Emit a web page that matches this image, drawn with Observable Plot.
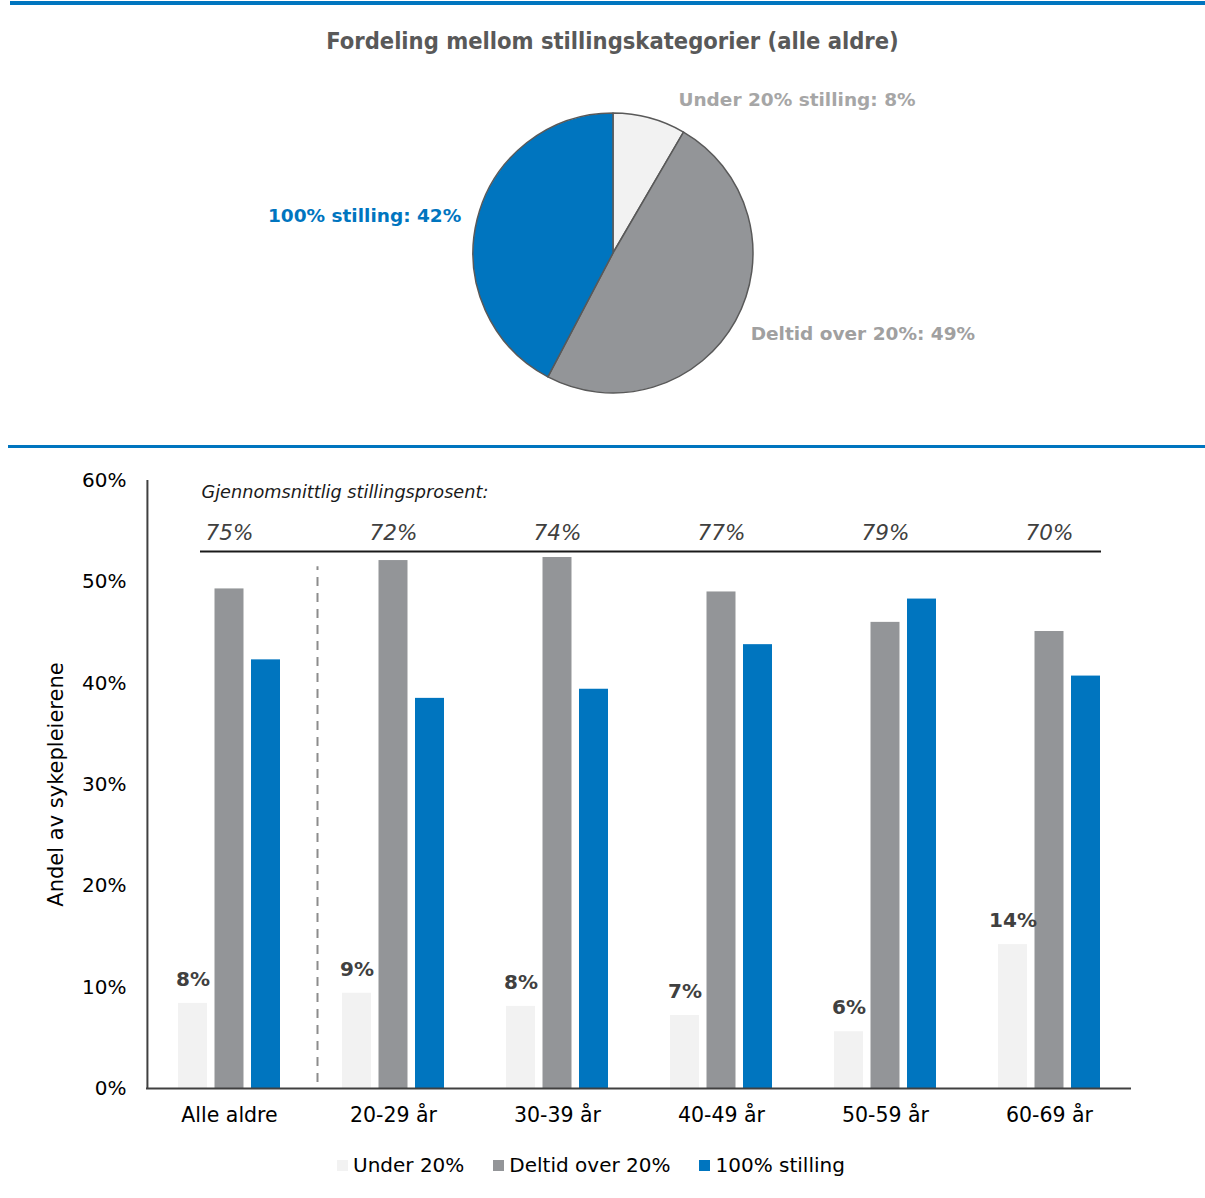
<!DOCTYPE html>
<html>
<head>
<meta charset="utf-8">
<script src="https://cdn.jsdelivr.net/npm/d3@7"></script>
<script src="https://cdn.jsdelivr.net/npm/@observablehq/plot@0.6"></script>
<style>
  body { margin: 0; background: #fff; font-family: "DejaVu Sans", sans-serif; }
  #root { position: relative; width: 1205px; height: 1198px; overflow: hidden; background: #fff; }
  .rule { position: absolute; background: #0075bf; }
  #title { position: absolute; top: 27px; left: 0; width: 1225px; text-align: center;
           font-family: "DejaVu Sans Condensed", "DejaVu Sans", sans-serif; font-stretch: condensed;
           font-weight: 700; font-size: 23.5px; color: #595959; }
  #pie { position: absolute; top: 60px; left: 0; }
  #bars { position: absolute; top: 460px; left: 0; }
  #legend { position: absolute; top: 1153px; left: 337px; display: flex; align-items: center;
            font-size: 20px; color: #000; gap: 29px; }
  #legend .item { display: flex; align-items: center; gap: 5px; }
  #legend .sw { width: 11px; height: 11px; display: inline-block; }
</style>
</head>
<body>
<div id="root">
  <div class="rule" style="top:1px;left:10px;width:1195px;height:4px;"></div>
  <div id="title">Fordeling mellom stillingskategorier (alle aldre)</div>
  <div id="pie"></div>
  <div class="rule" style="top:445px;left:8px;width:1197px;height:3px;"></div>
  <div id="bars"></div>
  <div id="legend"></div>
</div>
<script>
// ---------- data ----------
const categories = ["Alle aldre", "20-29 år", "30-39 år", "40-49 år", "50-59 år", "60-69 år"];
const seriesNames = ["Under 20%", "Deltid over 20%", "100% stilling"];
const seriesColors = ["#f2f2f2", "#939598", "#0075bf"];
const under20 = [8.4, 9.4, 8.1, 7.2, 5.6, 14.2];
const deltidOver20 = [49.3, 52.1, 52.4, 49.0, 46.0, 45.1];
const fullStilling = [42.3, 38.5, 39.4, 43.8, 48.3, 40.7];
const avgStillingsprosent = [75, 72, 74, 77, 79, 70];
const yTicks = [0, 10, 20, 30, 40, 50, 60];

const pieLabels = ["Under 20% stilling", "Deltid over 20%", "100% stilling"];
const pieValues = [8.4, 49.3, 42.3];
const pieLabelColors = ["#a6a6a6", "#a0a0a0", "#0075bf"];

const FONT = "'DejaVu Sans', sans-serif";

// ---------- pie ----------
const pieW = 1205, pieH = 380, cx = 613, cy = 193, R = 140;
const labelNudge = [[24, -2], [0, 5], [0, 0]]; // layout nudges for label placement
const pieRows = pieLabels.map((label, i) => ({label, value: pieValues[i], color: seriesColors[i], textColor: pieLabelColors[i]}));
const arcs = d3.pie().sort(null).value(d => d.value)(pieRows);
const arcGen = d3.arc().innerRadius(0).outerRadius(R);
const labelArc = d3.arc().innerRadius(R * 1.12).outerRadius(R * 1.12);
const pieLabelRows = arcs.map((a, i) => {
  const [lx, ly] = labelArc.centroid(a);
  return {x: cx + lx + labelNudge[i][0], y: cy + ly + labelNudge[i][1], anchor: lx >= 0 ? "start" : "end",
          text: `${a.data.label}: ${Math.round(a.data.value)}%`, color: a.data.textColor};
});

const piePlot = Plot.plot({
  width: pieW, height: pieH,
  margin: 0,
  x: {type: "identity", axis: null},
  y: {type: "identity", axis: null},
  style: {fontFamily: FONT, background: "transparent"},
  marks: [
    () => {
      const g = d3.create("svg:g").attr("transform", `translate(${cx},${cy})`);
      g.selectAll("path").data(arcs).join("path")
        .attr("d", arcGen)
        .attr("fill", d => d.data.color)
        .attr("stroke", "#595959")
        .attr("stroke-width", 1.5)
        .attr("stroke-linejoin", "round");
      return g.node();
    },
    Plot.text(pieLabelRows.filter(d => d.anchor === "start"), {
      x: "x", y: "y", text: "text", fill: "color", textAnchor: "start",
      fontSize: 18.5, fontWeight: "bold"
    }),
    Plot.text(pieLabelRows.filter(d => d.anchor === "end"), {
      x: "x", y: "y", text: "text", fill: "color", textAnchor: "end",
      fontSize: 18.5, fontWeight: "bold"
    })
  ]
});
document.getElementById("pie").appendChild(piePlot);

// ---------- grouped bars ----------
const seriesValues = [under20, deltidOver20, fullStilling];
const rows = categories.flatMap((category, i) =>
  seriesNames.map((series, j) => ({category, series, value: seriesValues[j][i]})));
const avgRows = categories.map((category, i) => ({category, avg: avgStillingsprosent[i]}));
const lineLevel = 53;

// bar placement inside each category band (band width ≈ 164px)
const insets = [[31, 104], [67.5, 67.5], [104, 31]];

const barPlot = Plot.plot({
  width: 1205, height: 680,
  marginTop: 20, marginBottom: 52, marginLeft: 146, marginRight: 74,
  style: {fontFamily: FONT, fontSize: "20px", color: "#000", background: "transparent"},
  x: {domain: categories, padding: 0},
  y: {domain: [0, 60]},
  color: {domain: seriesNames, range: seriesColors},
  marks: [
    ...seriesNames.map((s, j) => Plot.barY(rows.filter(d => d.series === s), {
      x: "category", y: "value", fill: "series",
      insetLeft: insets[j][0], insetRight: insets[j][1]
    })),
    Plot.text(rows.filter(d => d.series === seriesNames[0]), {
      x: "category", y: "value", text: d => `${Math.round(d.value)}%`,
      dx: -36.5, dy: -24, fontSize: 20, fontWeight: "bold", fill: "#404040"
    }),
    // dashed separator between "Alle aldre" and the age groups
    Plot.ruleX([categories[0]], {dx: 88, y1: 0.6, y2: 51.5, stroke: "#8c8c8c", strokeWidth: 2, strokeDasharray: "9,7"}),
    // average line & labels
    Plot.ruleY([lineLevel], {insetLeft: 54, insetRight: 30, stroke: "#1a1a1a", strokeWidth: 2}),
    Plot.text(avgRows, {
      x: "category", y: () => lineLevel, text: d => `${d.avg}%`, dy: -18,
      fontSize: 21.5, fontStyle: "italic", fill: "#404040"
    }),
    Plot.text(["Gjennomsnittlig stillingsprosent:"], {
      x: () => categories[0], y: () => 58.8, text: d => d, dx: -28, textAnchor: "start",
      fontSize: 17.7, fontStyle: "italic", fill: "#1a1a1a"
    }),
    // axes
    Plot.axisY({ticks: yTicks, tickFormat: d => `${d}%`, tickSize: 0, tickPadding: 20, fontSize: 20,
      label: "Andel av sykepleierene", labelAnchor: "center", labelArrow: "none", labelOffset: 98}),
    Plot.axisX({tickSize: 0, tickPadding: 19, fontSize: 20.5, label: null}),
    Plot.ruleX([categories[0]], {dx: -82.08, y1: 0, y2: 60, stroke: "#404040", strokeWidth: 2}),
    Plot.ruleY([0], {stroke: "#404040", strokeWidth: 2})
  ]
});
document.getElementById("bars").appendChild(barPlot);
// slightly larger y-axis title
barPlot.querySelectorAll("text").forEach(t => {
  if (t.textContent === "Andel av sykepleierene") t.setAttribute("font-size", 21);
});

// ---------- legend ----------
const legend = document.getElementById("legend");
seriesNames.forEach((s, i) => {
  const item = document.createElement("div");
  item.className = "item";
  const sw = document.createElement("span");
  sw.className = "sw";
  sw.style.background = seriesColors[i];
  const t = document.createElement("span");
  t.textContent = s;
  item.appendChild(sw); item.appendChild(t);
  legend.appendChild(item);
});
</script>
</body>
</html>
